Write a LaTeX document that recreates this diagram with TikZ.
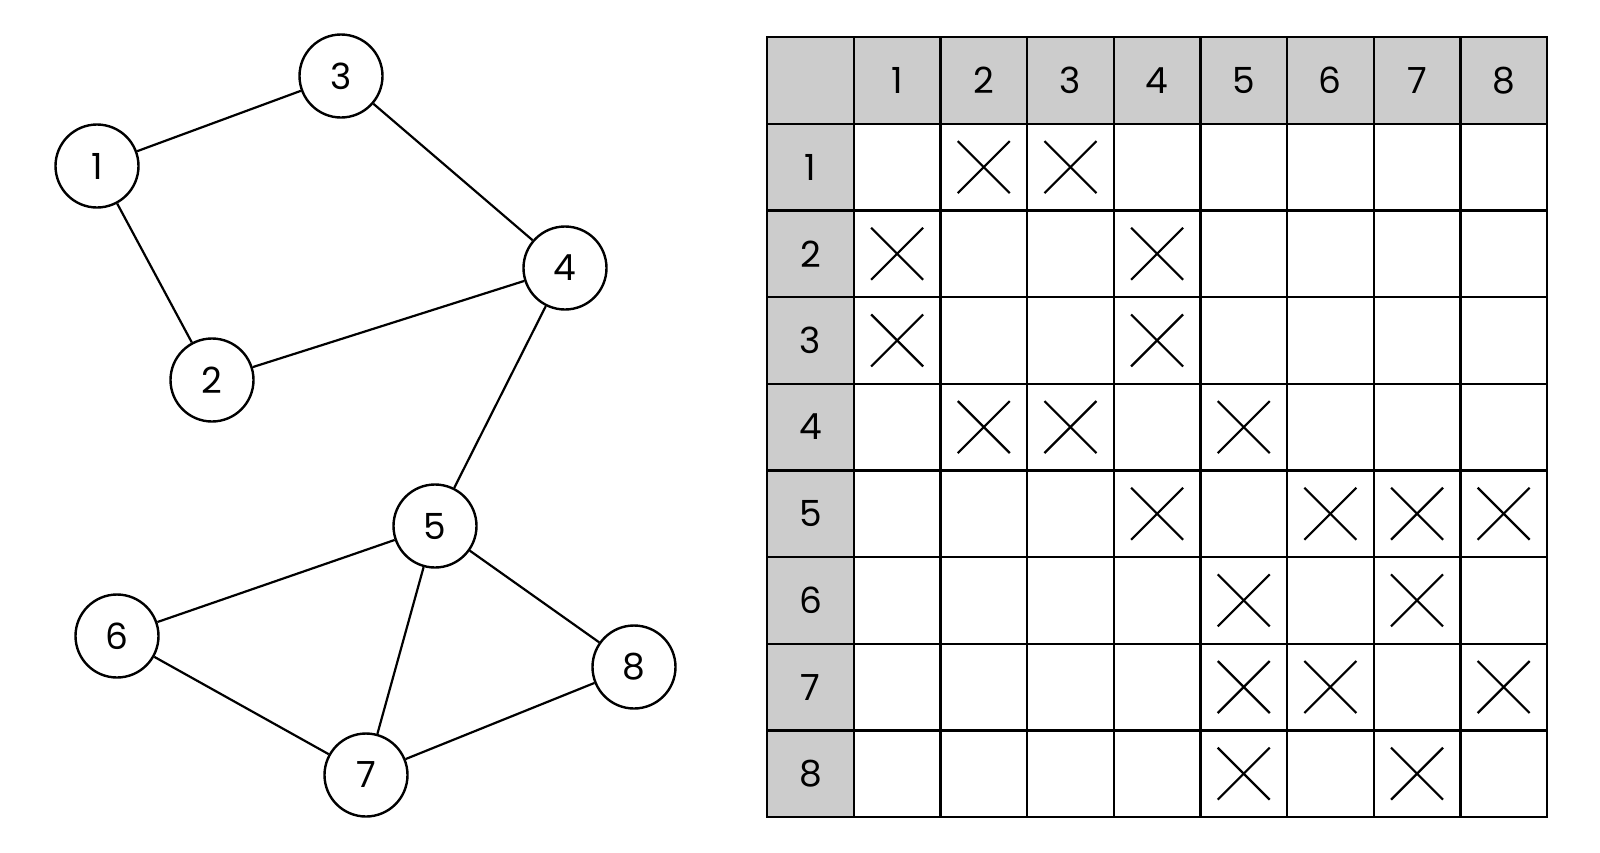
\documentclass[tikz,border=0pt]{standalone}
\usepackage{fontspec}
\setmainfont{Poppins}
\definecolor{hdr}{HTML}{CCCCCC}
\begin{document}
\begin{tikzpicture}[x=1pt,y=-1pt,
  vtx/.style={circle,draw,line width=2.4pt,fill=white,minimum size=83pt,inner sep=0pt,font=\fontsize{36}{36}\selectfont},
  edge/.style={line width=2.2pt},
  cellbox/.style={draw,line width=2.3pt,minimum size=86.65pt,inner sep=0pt,anchor=north west,font=\fontsize{36}{36}\selectfont},
  hcell/.style={cellbox,fill=hdr},
  xmark/.style={line width=2.2pt}
]
\useasboundingbox (0,0) rectangle (1600,852);
% graph
\node[vtx] (n1) at (97,166) {1};
\node[vtx] (n2) at (212,380) {2};
\node[vtx] (n3) at (341,76) {3};
\node[vtx] (n4) at (565,268) {4};
\node[vtx] (n5) at (435,526) {5};
\node[vtx] (n6) at (117,636) {6};
\node[vtx] (n7) at (366,775) {7};
\node[vtx] (n8) at (634,667) {8};
\foreach \a/\b in {n1/n3,n1/n2,n3/n4,n2/n4,n4/n5,n5/n6,n5/n7,n5/n8,n6/n7,n7/n8}
  \draw[edge] (\a) -- (\b);
% table
\def\L{766}\def\T{36}\def\C{86.65}
\node[hcell] (h00) at (\L,\T) {};
\foreach \i in {1,...,8}{
  \node[hcell] (hc\i) at ({\L+\i*\C},\T) {\i};
  \node[hcell] (hr\i) at (\L,{\T+\i*\C}) {\i};
  \foreach \j in {1,...,8}{
    \node[cellbox] (c\i-\j) at ({\L+\j*\C},{\T+\i*\C}) {};
  }
}
\foreach \i/\j in {1/2,1/3,2/1,2/4,3/1,3/4,4/2,4/3,4/5,5/4,5/6,5/7,5/8,6/5,6/7,7/5,7/6,7/8,8/5,8/7}{
  \draw[xmark] ([shift={(-26pt,-26pt)}]c\i-\j.center) -- ([shift={(26pt,26pt)}]c\i-\j.center);
  \draw[xmark] ([shift={(-26pt,26pt)}]c\i-\j.center) -- ([shift={(26pt,-26pt)}]c\i-\j.center);
}
\end{tikzpicture}
\end{document}
